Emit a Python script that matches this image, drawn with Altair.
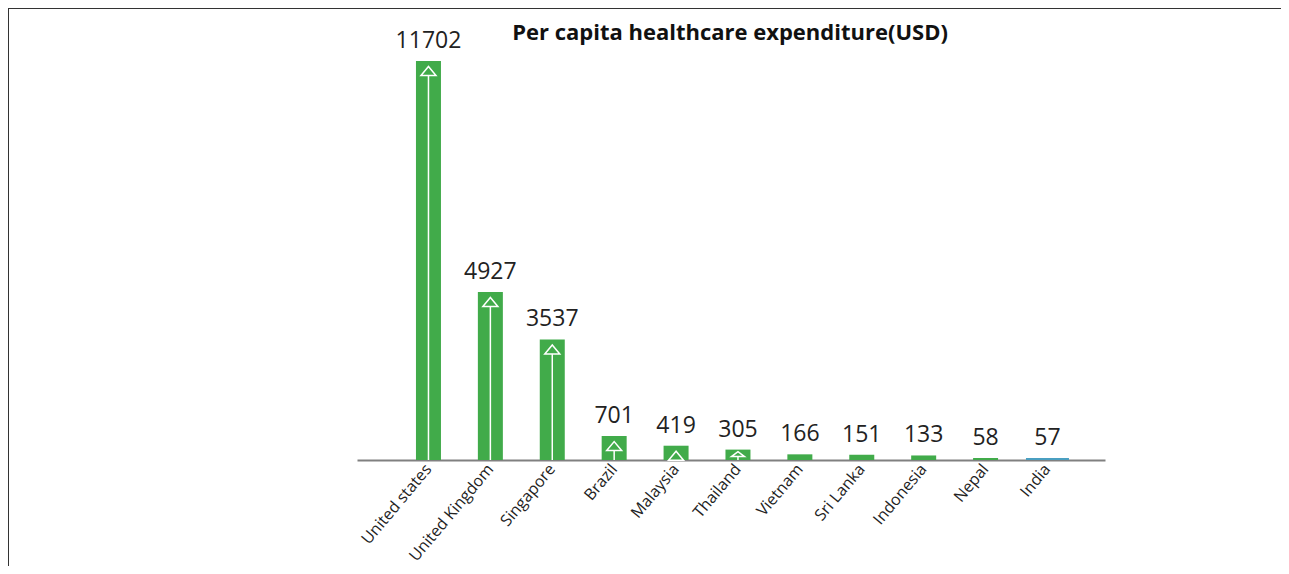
import altair as alt
import pandas as pd

countries = ["United states", "United Kingdom", "Singapore", "Brazil", "Malaysia",
             "Thailand", "Vietnam", "Sri Lanka", "Indonesia", "Nepal", "India"]
values = [11702, 4927, 3537, 701, 419, 305, 166, 151, 133, 58, 57]
title_text = "Per capita healthcare expenditure(USD)"

df = pd.DataFrame({"country": countries, "value": values})

FONT = "Open Sans"
GREEN = "#41ab4a"
BLUE = "#4a9fc1"

xenc = alt.X("country:N", sort=countries,
             scale=alt.Scale(paddingInner=0.596, paddingOuter=0.84, align=0.567),
             axis=alt.Axis(title=None, labelAngle=-50, labelFontSize=16, labelFont=FONT,
                           labelColor="#222222", ticks=False, domainColor="#808080",
                           domainWidth=2, labelPadding=6, labelAlign="right",
                           labelBaseline="middle"))
yenc = alt.Y("value:Q", scale=alt.Scale(domain=[0, 11702], nice=False), axis=None)

base = alt.Chart(df)

one = pd.DataFrame({"title": [title_text]})
frame_top = alt.Chart(one).mark_rule(color="#333333", strokeWidth=2).encode(
    x=alt.value(-349), x2=alt.value(3000), y=alt.value(-53))
frame_left = alt.Chart(one).mark_rule(color="#333333", strokeWidth=2).encode(
    x=alt.value(-349), y=alt.value(-54), y2=alt.value(3000))
title = alt.Chart(one).mark_text(font=FONT, fontSize=22, fontWeight="bold", color="#111111",
                                 baseline="alphabetic", align="center").encode(
    x=alt.value(373), y=alt.value(-21), text="title:N")

bars = base.mark_bar().encode(
    x=xenc, y=yenc,
    color=alt.condition("datum.country == 'India'", alt.value(BLUE), alt.value(GREEN)),
    size=alt.condition("datum.country == 'India'", alt.value(43), alt.value(25)),
)

big = base.transform_filter("datum.value >= 400")
small = base.transform_filter("datum.value >= 250 && datum.value < 400")

rule_big = big.mark_rule(color="white", strokeWidth=1.5, yOffset=14.5).encode(
    x=xenc, y=yenc, y2=alt.datum(0))
tri_big = big.mark_point(shape="M-1,0.6L1,0.6L0,-0.6Z", filled=False, color="white",
                         strokeWidth=1.5, size=225, yOffset=10, opacity=1).encode(x=xenc, y=yenc)

rule_small = small.mark_rule(color="white", strokeWidth=1.5, yOffset=7).encode(
    x=xenc, y=yenc, y2=alt.datum(0))
tri_small = small.mark_point(shape="M-1,0.38L1,0.38L0,-0.38Z", filled=False, color="white",
                             strokeWidth=1.5, size=169, yOffset=4.5, opacity=1).encode(x=xenc, y=yenc)

labels = base.mark_text(dy=-13, baseline="alphabetic", fontSize=23, font=FONT,
                        color="#222222").encode(x=xenc, y=yenc, text="value:Q")

chart = alt.layer(frame_top, frame_left, title, bars, rule_big, tri_big, rule_small, tri_small,
                  labels).properties(
    width=748, height=399,
    autosize=alt.AutoSizeParams(type="none"),
    padding={"left": 349, "top": 53, "right": 176, "bottom": 106},
).configure_view(stroke=None)

chart.save("out.html", embed_options={"renderer": "svg", "actions": False})
